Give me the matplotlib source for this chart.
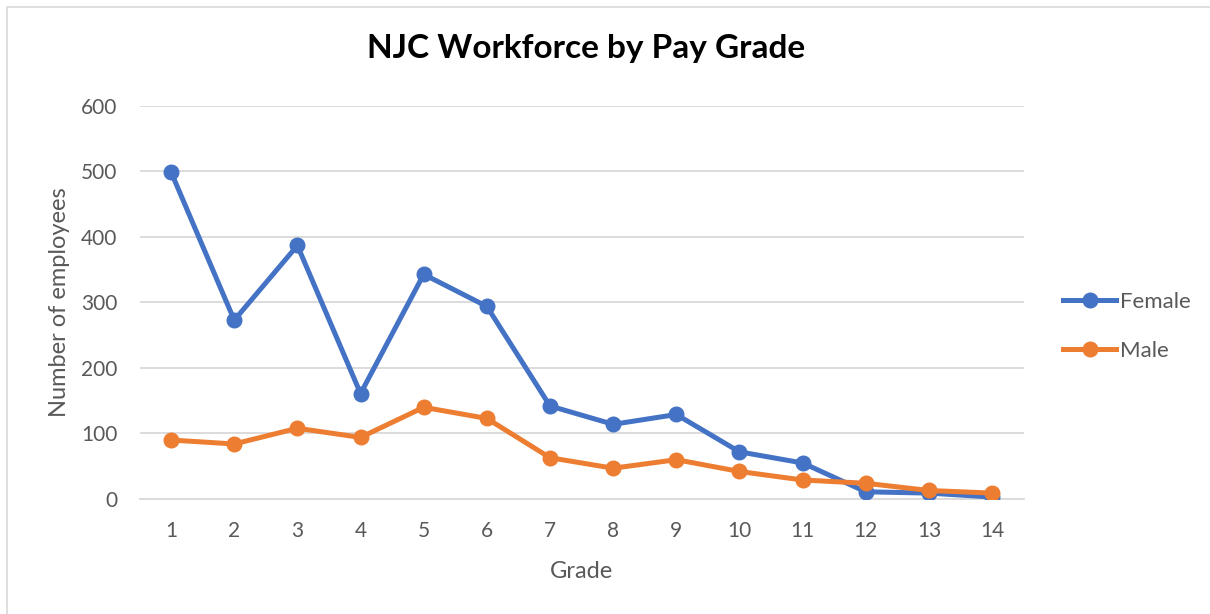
import matplotlib.pyplot as plt
from matplotlib.patches import Rectangle
from matplotlib.lines import Line2D

grades = list(range(1, 15))
female = [499, 273, 387, 161, 343, 294, 142, 114, 129, 72, 55, 11, 9, 3]
male = [90, 84, 108, 94, 140, 123, 63, 47, 60, 42, 29, 24, 13, 9]

plt.rcParams['font.family'] = ['Lato', 'DejaVu Sans']

blue = '#4472C4'
orange = '#ED7D31'
grey = '#595959'

fig = plt.figure(figsize=(12.1, 6.14), dpi=100)
ax = fig.add_axes([0.1153, 0.1873, 0.7307, 0.6401])

ax.plot(grades, female, color=blue, lw=3.6, marker='o', ms=10.5, label='Female',
        solid_capstyle='round', zorder=3)
ax.plot(grades, male, color=orange, lw=3.6, marker='o', ms=10.5, label='Male',
        solid_capstyle='round', zorder=4)

ax.set_xlim(0.5, 14.5)
ax.set_ylim(0, 600)
ax.set_xticks(grades)
ax.set_yticks(range(0, 601, 100))
ax.yaxis.grid(True, color='#d9d9d9', lw=1.3)
ax.set_axisbelow(True)
for s in ['top', 'right', 'left']:
    ax.spines[s].set_visible(False)
ax.spines['bottom'].set_color('#d9d9d9')
ax.spines['bottom'].set_linewidth(1.3)
ax.tick_params(axis='both', length=0, labelsize=15, colors=grey)
ax.tick_params(axis='x', pad=16)
ax.tick_params(axis='y', pad=16)

ax.set_xlabel('Grade', fontsize=17, color=grey, labelpad=14)
ax.set_ylabel('Number of employees', fontsize=17, color=grey, labelpad=8)

fig.text(0.484, 0.921, 'NJC Workforce by Pay Grade', fontsize=24, fontweight='bold',
         ha='center', va='center', color='black')

handles = [Line2D([0], [0], color=blue, lw=3.6, marker='o', ms=10.5),
           Line2D([0], [0], color=orange, lw=3.6, marker='o', ms=10.5)]
fig.legend(handles, ['Female', 'Male'], loc='center left', bbox_to_anchor=(0.862, 0.468),
           frameon=False, fontsize=16, labelcolor=grey, handlelength=2.4,
           handletextpad=0.15, labelspacing=1.3)

fig.patches.append(Rectangle((7 / 1210, -0.1), 1.2, 1 - 7 / 614 + 0.1, transform=fig.transFigure,
                             fill=False, edgecolor='#d9d9d9', lw=1.2))

fig.savefig('out.png', dpi=100)
